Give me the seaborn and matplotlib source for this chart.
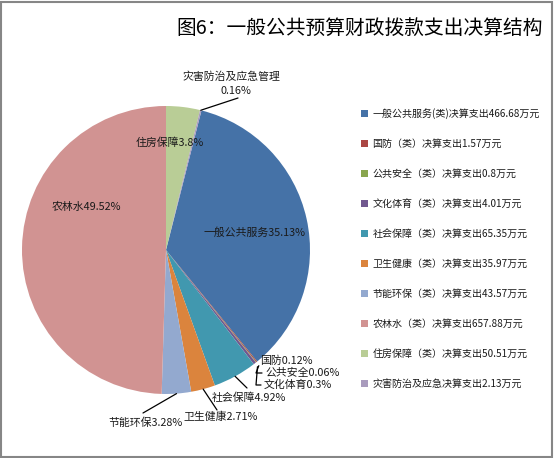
import numpy as np
import matplotlib
matplotlib.use("Agg")
import matplotlib.pyplot as plt
import matplotlib.patches as mpatches
import seaborn as sns

sns.set_theme(style="white")
plt.rcParams['font.family'] = ['Noto Sans CJK SC', 'DejaVu Sans']

# ---------------- data ----------------
categories = ["一般公共服务", "国防", "公共安全", "文化体育", "社会保障",
              "卫生健康", "节能环保", "农林水", "住房保障", "灾害防治及应急管理"]
amounts = [466.68, 1.57, 0.8, 4.01, 65.35, 35.97, 43.57, 657.88, 50.51, 2.13]
pct_labels = ["35.13%", "0.12%", "0.06%", "0.3%", "4.92%",
              "2.71%", "3.28%", "49.52%", "3.8%", "0.16%"]
legend_labels = ["一般公共服务(类)决算支出466.68万元", "国防（类）决算支出1.57万元",
                 "公共安全（类）决算支出0.8万元", "文化体育（类）决算支出4.01万元",
                 "社会保障（类）决算支出65.35万元", "卫生健康（类）决算支出35.97万元",
                 "节能环保（类）决算支出43.57万元", "农林水（类）决算支出657.88万元",
                 "住房保障（类）决算支出50.51万元", "灾害防治及应急决算支出2.13万元"]
title = "图6：一般公共预算财政拨款支出决算结构"

colors = ["#4572A7", "#AA4643", "#89A54E", "#71588F", "#4198AF",
          "#DB843D", "#93A9CF", "#D19392", "#B9CD96", "#A99BBD"]

W, H = 554, 458
fig = plt.figure(figsize=(W / 100, H / 100), dpi=100)
fig.patch.set_facecolor("white")

# pie axes: center (166,250) radius 144 px
cx, cy, r = 166, 250, 144
ax = fig.add_axes([(cx - r) / W, (H - cy - r) / H, 2 * r / W, 2 * r / H])
# the boundary between 农林水 and 住房保障 sits at 12 o'clock
total = float(np.sum(amounts))
start = 90 - 360 * (amounts[8] + amounts[9]) / total
wedges, _ = ax.pie(amounts, colors=colors, startangle=start, counterclock=False,
                   radius=1.0, wedgeprops=dict(linewidth=0))
ax.set_xlim(-1, 1)
ax.set_ylim(-1, 1)
ax.set_aspect("equal")
ax.axis("off")

def px2d(px, py):
    return ((px - cx) / r, (cy - py) / r)

def edge_point(i, rad=1.0):
    w = wedges[i]
    ang = np.deg2rad((w.theta1 + w.theta2) / 2)
    return (rad * np.cos(ang), rad * np.sin(ang))

txt_kw = dict(fontsize=7.8, color="#1a1a1a")
# inside labels (no leader)
inside = {0: (255, 233), 7: (86, 207), 8: (170, 143)}
for i, (px, py) in inside.items():
    x, y = px2d(px, py)
    ax.text(x, y, categories[i] + pct_labels[i], ha="center", va="center", **txt_kw)

# 国防 label (no visible leader)
x, y = px2d(260, 361)
ax.text(x, y, categories[1] + pct_labels[1], ha="left", va="center", clip_on=False, **txt_kw)

# outside labels with leaders: (text anchor px, leader end px)
outside = {
    2: ((265, 373), (262, 373)),
    3: ((264, 385), (261, 385)),
    4: ((212, 398), (247, 388)),
    5: ((183, 417), (217, 410)),
    6: ((108, 423), (143, 413)),
}
for i, ((px, py), (lx, ly)) in outside.items():
    x, y = px2d(px, py)
    ax.text(x, y, categories[i] + pct_labels[i], ha="left", va="center", clip_on=False, **txt_kw)
    sx, sy = edge_point(i, 1.03)
    ex, ey = px2d(lx, ly)
    if i in (2, 3):
        kx, ky = px2d(256, ly)
        ax.plot([sx, kx, ex], [sy, ky, ey], color="black", lw=0.9, clip_on=False)
    else:
        sx, sy = edge_point(i, 1.0)
        ax.plot([sx, ex], [sy, ey], color="black", lw=0.9, clip_on=False)

# disaster label
x, y = px2d(231, 77)
ax.text(x, y, categories[9], ha="center", va="center", clip_on=False, **txt_kw)
x, y = px2d(236, 91)
ax.text(x, y, pct_labels[9], ha="center", va="center", clip_on=False, **txt_kw)
sx, sy = edge_point(9, 1.0)
ex, ey = px2d(238, 98)
ax.plot([sx, ex], [sy, ey], color="black", lw=0.9, clip_on=False)

# title
fig.text(360 / W, 1 - 28 / H, title, ha="center", va="center", fontsize=14.2, color="black")

# legend
handles = [mpatches.Patch(facecolor=c, edgecolor="none") for c in colors]
leg = fig.legend(handles, legend_labels, loc="upper left",
                 bbox_to_anchor=(361 / W, 1 - 108 / H), frameon=False,
                 fontsize=7.2, labelspacing=2.0, handlelength=0.7, handleheight=0.7,
                 handletextpad=0.45, borderpad=0, borderaxespad=0)
for t in leg.get_texts():
    t.set_color("#1a1a1a")

# outer border
fig.patches.append(mpatches.Rectangle((0.5 / W, 1.5 / H), (W - 3) / W, (H - 3) / H,
                                      transform=fig.transFigure, fill=False,
                                      edgecolor="#868686", linewidth=1.5))

fig.savefig("out.png", dpi=100, facecolor="white")
